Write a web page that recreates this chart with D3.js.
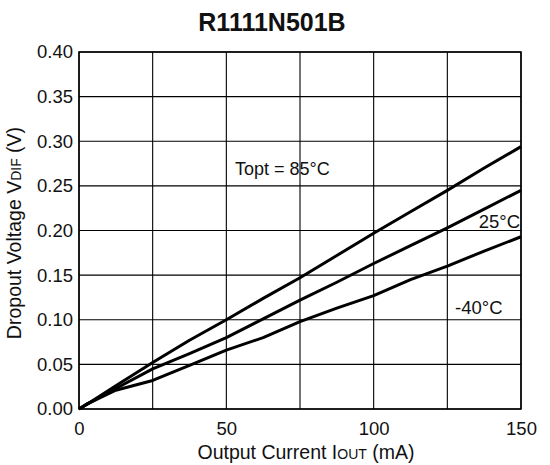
<!DOCTYPE html>
<html>
<head>
<meta charset="utf-8">
<script src="https://cdn.jsdelivr.net/npm/d3@7"></script>
<style>
  body { margin: 0; background: #fff; }
  text { font-family: "Liberation Sans", Arial, sans-serif; fill: #111; }
</style>
</head>
<body>
<div id="chart"></div>
<script>
// output current (mA)
var current = [0, 3, 12.5, 25, 37.5, 50, 62.5, 75, 87.5, 100, 112.5, 125, 137.5, 150];
// dropout voltage (V) per temperature
var v85 = [0, 0.006, 0.026, 0.052, 0.077, 0.100, 0.124, 0.147, 0.172, 0.197, 0.221, 0.245, 0.270, 0.294];
var v25 = [0, 0.006, 0.023, 0.045, 0.062, 0.080, 0.101, 0.122, 0.142, 0.163, 0.183, 0.203, 0.224, 0.245];
var vm40 = [0, 0.006, 0.021, 0.032, 0.049, 0.066, 0.080, 0.098, 0.113, 0.127, 0.145, 0.160, 0.177, 0.193];
var xTicks = [0, 25, 50, 75, 100, 125, 150];
var xTickLabels = [0, 50, 100, 150];
var yTicks = [0, 0.05, 0.10, 0.15, 0.20, 0.25, 0.30, 0.35, 0.40];

var W = 550, H = 465;
var pLeft = 79, pRight = 521, pTop = 52, pBottom = 409;

var svg = d3.select("#chart").append("svg")
  .attr("width", W)
  .attr("height", H);

var x = d3.scaleLinear().domain([0, 150]).range([pLeft, pRight]);
var y = d3.scaleLinear().domain([0, 0.40]).range([pBottom, pTop]);

// grid
svg.append("g").selectAll("line")
  .data(xTicks)
  .enter().append("line")
  .attr("x1", function(d) { return x(d); })
  .attr("x2", function(d) { return x(d); })
  .attr("y1", pTop)
  .attr("y2", pBottom)
  .attr("stroke", "#000")
  .attr("stroke-width", 1.1);

svg.append("g").selectAll("line")
  .data(yTicks)
  .enter().append("line")
  .attr("x1", pLeft)
  .attr("x2", pRight)
  .attr("y1", function(d) { return y(d); })
  .attr("y2", function(d) { return y(d); })
  .attr("stroke", "#000")
  .attr("stroke-width", 1.1);

svg.append("rect")
  .attr("x", pLeft)
  .attr("y", pTop)
  .attr("width", pRight - pLeft)
  .attr("height", pBottom - pTop)
  .attr("fill", "none")
  .attr("stroke", "#000")
  .attr("stroke-width", 1.5);

// tick labels
var xAxis = d3.axisBottom(x).tickValues(xTickLabels).tickSize(0).tickPadding(13);
svg.append("g")
  .attr("transform", "translate(0," + pBottom + ")")
  .call(xAxis)
  .call(function(g) { g.select(".domain").remove(); })
  .selectAll("text")
  .style("font-size", "18.5px")
  .style("font-family", "Liberation Sans, Arial, sans-serif")
  .attr("fill", "#111");

var yAxis = d3.axisLeft(y).tickValues(yTicks).tickSize(0).tickPadding(6)
  .tickFormat(d3.format(".2f"));
svg.append("g")
  .attr("transform", "translate(" + pLeft + ",0)")
  .call(yAxis)
  .call(function(g) { g.select(".domain").remove(); })
  .selectAll("text")
  .style("font-size", "18.5px")
  .style("font-family", "Liberation Sans, Arial, sans-serif")
  .attr("fill", "#111");

// curves
var line = d3.line()
  .x(function(d) { return x(d[0]); })
  .y(function(d) { return y(d[1]); });

[v85, v25, vm40].forEach(function(s) {
  svg.append("path")
    .datum(d3.zip(current, s))
    .attr("d", line)
    .attr("fill", "none")
    .attr("stroke", "#000")
    .attr("stroke-width", 3)
    .attr("stroke-linejoin", "round");
});

// title
svg.append("text")
  .attr("x", 272)
  .attr("y", 31)
  .attr("text-anchor", "middle")
  .style("font-size", "25px")
  .style("font-weight", "bold")
  .text("R1111N501B");

// axis titles
var xt = svg.append("text")
  .attr("x", 306)
  .attr("y", 459)
  .attr("text-anchor", "middle")
  .style("font-size", "19.5px");
xt.append("tspan").text("Output Current I");
xt.append("tspan").style("font-size", "14px").text("OUT");
xt.append("tspan").text(" (mA)");

var yt = svg.append("text")
  .attr("transform", "translate(21,233) rotate(-90)")
  .attr("text-anchor", "middle")
  .style("font-size", "19.5px");
yt.append("tspan").text("Dropout Voltage V");
yt.append("tspan").style("font-size", "14px").text("DIF");
yt.append("tspan").text(" (V)");

// series labels
svg.append("text")
  .attr("x", 235).attr("y", 175)
  .style("font-size", "18px")
  .text("Topt = 85°C");

svg.append("text")
  .attr("x", 520).attr("y", 228)
  .attr("text-anchor", "end")
  .style("font-size", "18.5px")
  .text("25°C");

svg.append("text")
  .attr("x", 455).attr("y", 314)
  .style("font-size", "18.5px")
  .text("-40°C");
</script>
</body>
</html>
